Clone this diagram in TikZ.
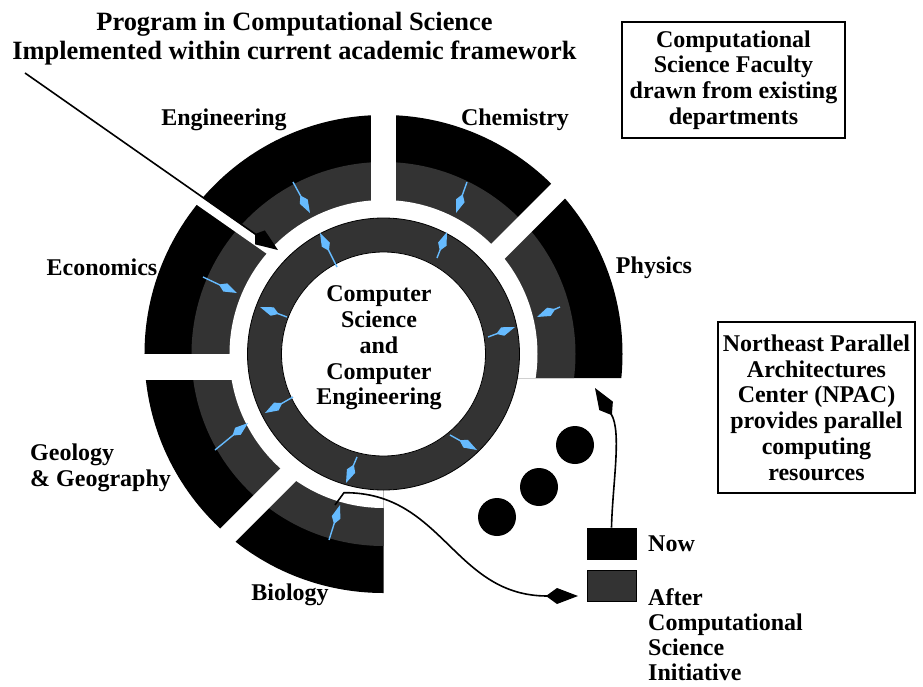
\documentclass[tikz,border=0pt]{standalone}
\usepackage{fontspec}
\setmainfont{Liberation Serif}
\usepackage{xcolor}
\usepackage{tikz}
\usetikzlibrary{arrows.meta}

\definecolor{ringgray}{HTML}{333333}
\definecolor{flowblue}{HTML}{66BBFF}

\tikzset{
    deptlabel/.style={font=\fontsize{24}{25.75}\selectfont\bfseries, align=center, inner sep=0pt},
    infobox/.style={deptlabel, draw, line width=2pt},
    keybox/.style={draw=black, line width=0.6pt, minimum width=49pt, minimum height=31pt, inner sep=0pt},
    flow/.style={draw=flowblue, line width=1.4pt, -{Kite[length=20pt, width=9pt, inset=7pt]}},
    linkarrow/.style={line width=1.6pt, -{Kite[length=32pt, width=16pt, inset=11pt]}},
    pointer/.style={line width=1.6pt, -{Kite[length=28pt, width=17pt, inset=6pt]}},
}

\begin{document}
\begin{tikzpicture}[x=1pt, y=1pt]
    \useasboundingbox (-383.5,-332) rectangle (539.5,354);

    % 外环: 各系 (黑 = now, 灰 = after)
    \begin{scope}
        \clip (-260,260) -- (260,260) -- (260,-24) -- (0,-24) -- (0,-260) -- (-260,-260) -- cycle;
        \fill[black] (0,0) circle (239);
        \fill[ringgray] (0,0) circle (192);
        \fill[white] (0,0) circle (154);
    \end{scope}

    % 各系之间的缝
    \fill[white] (-12.5,0) rectangle (12.5,250);
    \fill[white] (-250,-26) rectangle (0,0);
    \draw[white, line width=20pt] (0,-11.7) -- (250,238.3);
    \draw[white, line width=20pt] (0,-25.5) -- (-250,-275.5);
    \draw[white, line width=9pt] (-260.2,206.1) -- (-108.4,99.9);

    % 内环: CS / CE
    \draw[fill=ringgray, line width=0.8pt] (0,0) circle (136);
    \draw[fill=white, line width=0.8pt] (0,0) circle (102);

    % 蓝色小箭头
    \foreach \xa/\ya/\xb/\yb in {
        -90.5/172/-73.5/141, 83.5/172/72.5/141, -180.5/77/-146.5/61,
        176.5/47/153.5/37, -168.5/-96/-135.5/-69, -54.5/-186/-43.5/-151,
        -46.5/87/-63.5/121, 53.5/96/63.5/122, -96.5/37/-123.5/47,
        104.5/17/131.5/27, -90.5/-43/-118.5/-59, -26.5/-103/-37.5/-129,
        66.5/-81/93.5/-96}
        \draw[flow] (\xa,\ya) -- (\xb,\yb);

    % 标签
    \node[font=\fontsize{26.4}{29}\selectfont\bfseries, align=center, inner sep=0pt] (title) at (-89,315.5)
        {Program in Computational Science\\Implemented within current academic framework};
    \node[deptlabel] (eng) at (-159.5,234) {Engineering};
    \node[deptlabel] (chem) at (131.5,234) {Chemistry};
    \node[deptlabel] (econ) at (-281.5,87) {Economics};
    \node[deptlabel] (phys) at (270.5,86) {Physics};
    \node[deptlabel, align=left, anchor=west] (geo) at (-353.5,-114) {Geology\\\& Geography};
    \node[deptlabel] (bio) at (-93.5,-241) {Biology};
    \node[deptlabel] (cs) at (-4.5,6) {Computer\\Science\\and\\Computer\\Engineering};

    \node[infobox, minimum width=223pt, minimum height=116pt] (faculty) at (350,274)
        {Computational\\Science Faculty\\drawn from existing\\departments};
    \node[infobox, minimum width=197pt, minimum height=171pt] (npac) at (433,-53.5)
        {Northeast Parallel\\Architectures\\Center (NPAC)\\provides parallel\\computing\\resources};

    % 图例
    \node[keybox, fill=black] (nowbox) at (228,-189.5) {};
    \node[keybox, fill=ringgray] (afterbox) at (228,-231.5) {};
    \node[deptlabel, anchor=west] (nowtext) at (264.5,-190) {Now};
    \node[deptlabel, anchor=west, align=left, font=\fontsize{24}{25}\selectfont\bfseries] (aftertext) at (264.5,-281)
        {After\\Computational\\Science\\Initiative};

    % 三个点
    \fill (191.5,-91) circle (19);
    \fill (155.5,-133) circle (19);
    \fill (113.5,-163) circle (19);

    % 黑色箭头
    \coordinate (titlefoot) at (-358.5,281);
    \coordinate (engtip) at (-105.5,104);
    \coordinate (physin) at (211.5,-34);
    \coordinate (ringout) at (-48.5,-151);
    \coordinate (ringbend) at (-39.5,-138.7);
    \coordinate (afterin) at (194.5,-242);

    \draw[pointer] (titlefoot) -- (engtip);
    \draw[linkarrow] (nowbox.north) .. controls (229,-130) and (238.5,-77.5) .. (physin);
    \draw[linkarrow] (ringout) -- (ringbend) .. controls (60,-138) and (70,-242) .. (afterin);

\end{tikzpicture}
\end{document}
